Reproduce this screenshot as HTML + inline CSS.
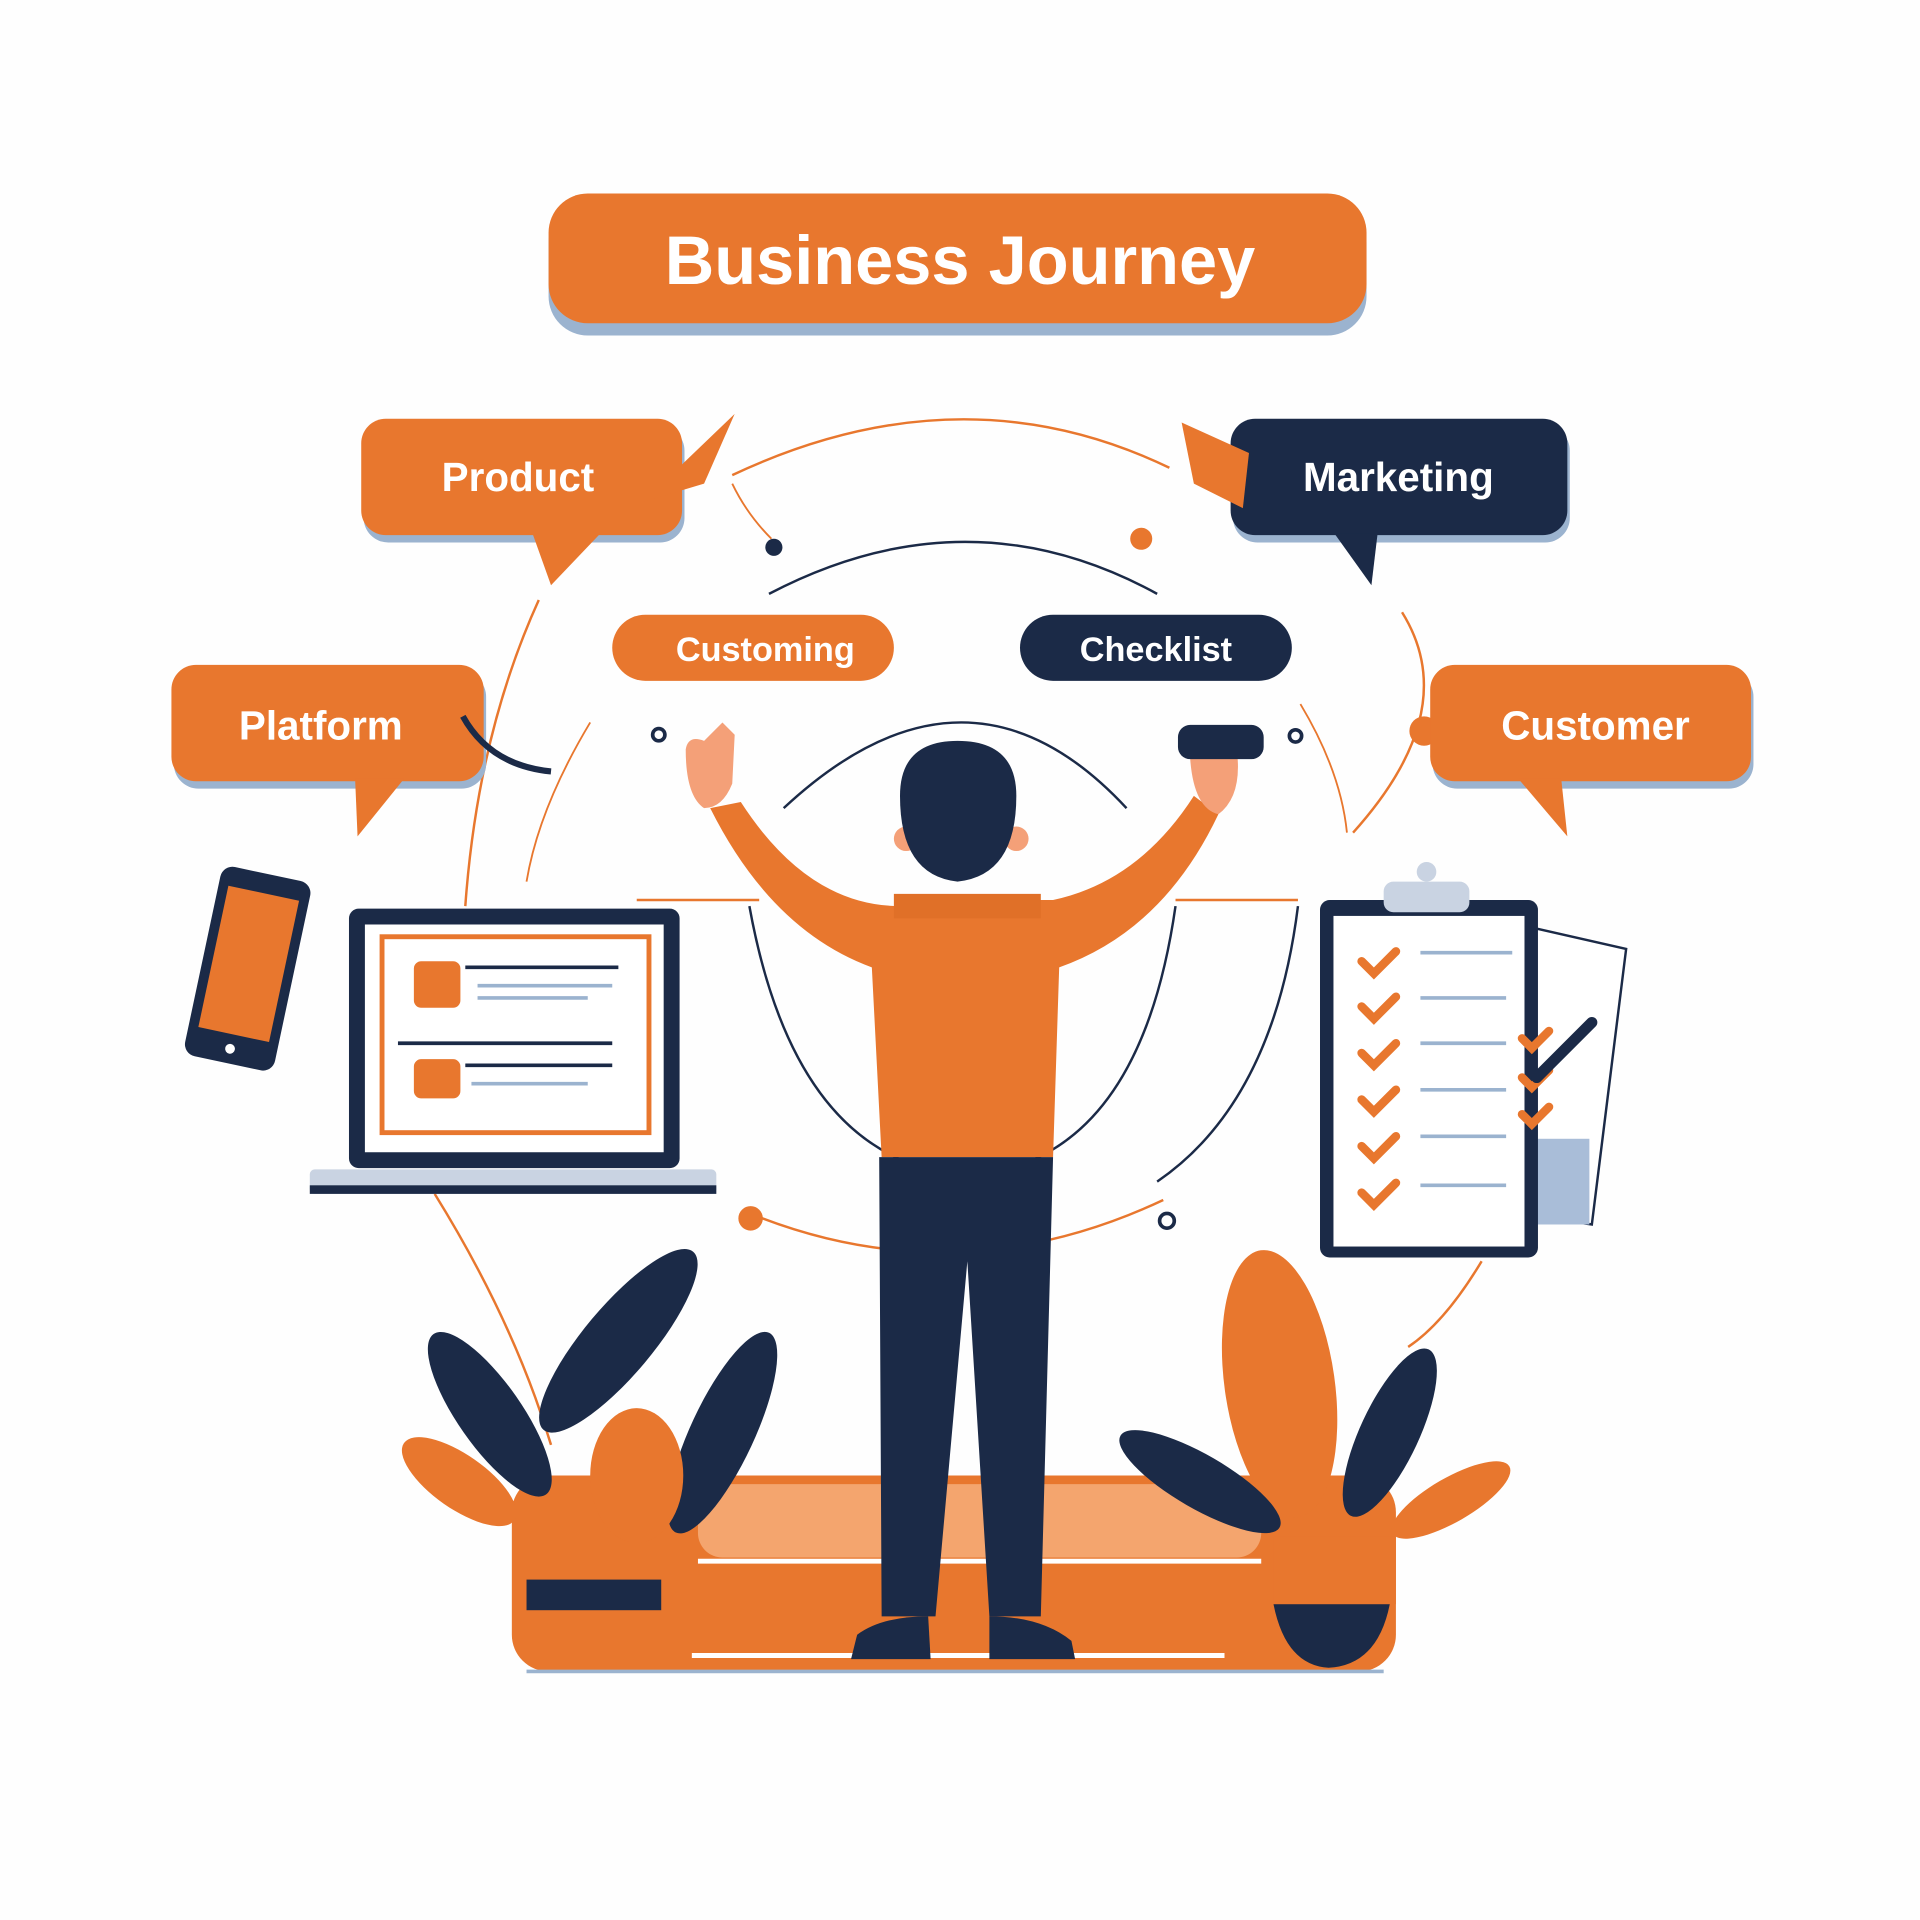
<!DOCTYPE html>
<html><head><meta charset="utf-8"><style>html,body{margin:0;padding:0;background:#fefefe}svg{display:block}</style></head>
<body>
<svg width="1920" height="1920" viewBox="0 0 1568 1568" xmlns="http://www.w3.org/2000/svg" font-family="Liberation Sans, sans-serif" font-weight="bold">
<rect width="1568" height="1568" fill="#fefefe"/>
<!-- arcs -->
<g fill="none" stroke-width="2">
<path d="M598 388 Q785 300 955 382" stroke="#E8772E"/>
<path d="M440 490 Q390 600 380 740" stroke="#E8772E"/>
<path d="M1145 500 Q1195 580 1105 680" stroke="#E8772E"/>
<path d="M482 590 Q440 660 430 720" stroke="#E8772E" stroke-width="1.5"/>
<path d="M1062 575 Q1095 630 1100 680" stroke="#E8772E" stroke-width="1.5"/>
<path d="M628 485 Q790 400 945 485" stroke="#1B2A47"/>
<path d="M640 660 Q790 520 920 660" stroke="#1B2A47"/>
<path d="M612 740 Q650 950 790 960 Q930 950 960 740" stroke="#1B2A47"/>
<path d="M945 965 Q1040 900 1060 740" stroke="#1B2A47"/>
<path d="M610 990 Q780 1060 950 980" stroke="#E8772E"/>
<path d="M355 975 Q420 1080 450 1180" stroke="#E8772E"/>
<path d="M1210 1030 Q1180 1080 1150 1100" stroke="#E8772E"/>
<path d="M520 735 H620 M960 735 H1060" stroke="#E8772E"/>
<path d="M598 395 Q610 420 630 440" stroke="#E8772E" stroke-width="1.5"/>
</g>
<circle cx="632" cy="447" r="7" fill="#1B2A47"/><circle cx="932" cy="440" r="9" fill="#E8772E"/>
<circle cx="538" cy="600" r="5" fill="none" stroke="#1B2A47" stroke-width="3"/>
<circle cx="1058" cy="601" r="5" fill="none" stroke="#1B2A47" stroke-width="3"/>
<circle cx="953" cy="997" r="6" fill="none" stroke="#1B2A47" stroke-width="3"/>
<circle cx="613" cy="995" r="10" fill="#E8772E"/>
<circle cx="1163" cy="597" r="12" fill="#E8772E"/>
<!-- title -->
<rect x="448" y="166" width="668" height="108" rx="32" fill="#9BB3CF"/>
<rect x="448" y="158" width="668" height="106" rx="32" fill="#E8772E"/>
<text x="784" y="232" font-size="56" fill="#fff" text-anchor="middle">Business Journey</text>
<!-- Product -->
<rect x="297" y="348" width="262" height="95" rx="20" fill="#9BB3CF"/>
<rect x="295" y="342" width="262" height="95" rx="20" fill="#E8772E"/>
<path d="M435 436 L450 478 L490 436Z" fill="#E8772E"/>
<path d="M525 410 L600 338 L575 395Z" fill="#E8772E"/>
<text x="423" y="401" font-size="33" fill="#fff" text-anchor="middle">Product</text>
<!-- Marketing -->
<rect x="1007" y="348" width="275" height="95" rx="20" fill="#9BB3CF"/>
<rect x="1005" y="342" width="275" height="95" rx="20" fill="#1B2A47"/>
<path d="M1090 436 L1120 478 L1125 436Z" fill="#1B2A47"/>
<path d="M965 345 L1020 370 L1015 415 L975 395Z" fill="#E8772E"/>
<text x="1142" y="401" font-size="33" fill="#fff" text-anchor="middle">Marketing</text>
<!-- pills -->
<rect x="500" y="502" width="230" height="54" rx="27" fill="#E8772E"/>
<text x="625" y="540" font-size="28" fill="#fff" text-anchor="middle">Customing</text>
<rect x="833" y="502" width="222" height="54" rx="27" fill="#1B2A47"/>
<text x="944" y="540" font-size="28" fill="#fff" text-anchor="middle">Checklist</text>
<!-- Platform -->
<rect x="142" y="549" width="255" height="95" rx="20" fill="#9BB3CF"/>
<rect x="140" y="543" width="255" height="95" rx="20" fill="#E8772E"/>
<path d="M290 636 L292 683 L330 636Z" fill="#E8772E"/>
<text x="262" y="604" font-size="33" fill="#fff" text-anchor="middle">Platform</text>
<path d="M378 585 Q400 625 450 630" fill="none" stroke="#1B2A47" stroke-width="5"/>
<!-- Customer -->
<rect x="1170" y="549" width="262" height="95" rx="20" fill="#9BB3CF"/>
<rect x="1168" y="543" width="262" height="95" rx="20" fill="#E8772E"/>
<path d="M1240 636 L1280 683 L1275 636Z" fill="#E8772E"/>
<text x="1303" y="604" font-size="33" fill="#fff" text-anchor="middle">Customer</text>
<!-- phone -->
<g transform="rotate(12 202 790)">
<rect x="165" y="712" width="75" height="158" rx="10" fill="#1B2A47"/>
<rect x="173" y="728" width="59" height="118" fill="#E8772E"/>
<circle cx="202" cy="858" r="4" fill="#fff"/>
</g>
<!-- laptop -->
<rect x="285" y="742" width="270" height="212" rx="8" fill="#1B2A47"/>
<rect x="298" y="755" width="244" height="186" fill="#fff"/>
<rect x="312" y="765" width="218" height="160" fill="none" stroke="#E8772E" stroke-width="4"/>
<rect x="338" y="785" width="38" height="38" rx="6" fill="#E8772E"/>
<rect x="338" y="865" width="38" height="32" rx="6" fill="#E8772E"/>
<g stroke="#1B2A47" stroke-width="3"><line x1="380" y1="790" x2="505" y2="790"/><line x1="325" y1="852" x2="500" y2="852"/><line x1="380" y1="870" x2="500" y2="870"/></g>
<g stroke="#9BB3CF" stroke-width="3"><line x1="390" y1="805" x2="500" y2="805"/><line x1="390" y1="815" x2="480" y2="815"/><line x1="385" y1="885" x2="480" y2="885"/></g>
<rect x="253" y="955" width="332" height="20" rx="4" fill="#c9d3e2"/>
<rect x="253" y="968" width="332" height="7" fill="#1B2A47"/>
<!-- clipboard -->
<path d="M1240 755 L1328 775 L1300 1000 L1230 990Z" fill="#fff" stroke="#1B2A47" stroke-width="2"/>
<rect x="1228" y="930" width="70" height="70" fill="#a9bdd8"/>
<rect x="1078" y="735" width="178" height="292" rx="8" fill="#1B2A47"/>
<rect x="1089" y="748" width="156" height="270" fill="#fff"/>
<rect x="1130" y="720" width="70" height="25" rx="8" fill="#c9d3e2"/>
<circle cx="1165" cy="712" r="8" fill="#c9d3e2"/>
<g fill="none" stroke="#E8772E" stroke-width="7" stroke-linecap="round">
<path d="M1112 785 l10 10 l18 -18"/><path d="M1112 822 l10 10 l18 -18"/><path d="M1112 860 l10 10 l18 -18"/><path d="M1112 898 l10 10 l18 -18"/><path d="M1112 936 l10 10 l18 -18"/><path d="M1112 974 l10 10 l18 -18"/>
<path d="M1243 848 l8 8 l14 -14"/><path d="M1243 880 l8 8 l14 -14"/><path d="M1243 910 l8 8 l14 -14"/>
</g>
<g stroke="#9BB3CF" stroke-width="3"><line x1="1160" y1="778" x2="1235" y2="778"/><line x1="1160" y1="815" x2="1230" y2="815"/><line x1="1160" y1="852" x2="1230" y2="852"/><line x1="1160" y1="890" x2="1230" y2="890"/><line x1="1160" y1="928" x2="1230" y2="928"/><line x1="1160" y1="968" x2="1230" y2="968"/></g>
<line x1="1255" y1="880" x2="1300" y2="835" stroke="#1B2A47" stroke-width="9" stroke-linecap="round"/>
<!-- platform base -->
<rect x="418" y="1205" width="722" height="160" rx="30" fill="#E8772E"/>
<rect x="570" y="1212" width="460" height="60" rx="20" fill="#F4A56E"/>
<line x1="570" y1="1275" x2="1030" y2="1275" stroke="#fff" stroke-width="4"/>
<line x1="565" y1="1352" x2="1000" y2="1352" stroke="#fff" stroke-width="4"/>
<line x1="430" y1="1365" x2="1130" y2="1365" stroke="#9BB3CF" stroke-width="3"/>
<!-- left plant -->
<g>
<ellipse cx="505" cy="1095" rx="28" ry="95" transform="rotate(40 505 1095)" fill="#1B2A47"/>
<ellipse cx="400" cy="1155" rx="26" ry="80" transform="rotate(-35 400 1155)" fill="#1B2A47"/>
<ellipse cx="590" cy="1170" rx="26" ry="90" transform="rotate(25 590 1170)" fill="#1B2A47"/>
<ellipse cx="520" cy="1205" rx="38" ry="55" fill="#E8772E"/>
<ellipse cx="375" cy="1210" rx="22" ry="55" transform="rotate(-55 375 1210)" fill="#E8772E"/>
<rect x="430" y="1290" width="110" height="25" fill="#1B2A47"/>
</g>
<!-- right plant -->
<g>
<ellipse cx="1045" cy="1130" rx="45" ry="110" transform="rotate(-8 1045 1130)" fill="#E8772E"/>
<ellipse cx="1135" cy="1170" rx="24" ry="75" transform="rotate(25 1135 1170)" fill="#1B2A47"/>
<ellipse cx="980" cy="1210" rx="22" ry="75" transform="rotate(-60 980 1210)" fill="#1B2A47"/>
<ellipse cx="1185" cy="1225" rx="18" ry="55" transform="rotate(60 1185 1225)" fill="#E8772E"/>
<path d="M1040 1310 H1135 Q1125 1360 1085 1362 Q1050 1360 1040 1310Z" fill="#1B2A47"/>
<path d="M1040 1255 H1140 V1310 H1040Z" fill="#E8772E"/>
</g>
<!-- person -->
<path d="M580 660 L605 655 Q660 740 735 740 L740 735 L860 735 Q930 720 975 650 L995 665 Q950 760 865 790 L860 945 L720 945 L712 790 Q630 760 580 660Z" fill="#E8772E"/>
<rect x="730" y="730" width="120" height="20" fill="#E07028"/>
<path d="M718 945 H860 L850 1320 H808 L790 1030 L764 1320 H720Z" fill="#1B2A47"/>
<path d="M695 1355 L700 1335 Q720 1320 758 1320 L760 1355Z" fill="#1B2A47"/>
<path d="M808 1355 V1320 Q850 1320 875 1340 L878 1355Z" fill="#1B2A47"/>
<circle cx="740" cy="685" r="10" fill="#F4A078"/><circle cx="830" cy="685" r="10" fill="#F4A078"/>
<path d="M735 650 Q735 605 782 605 Q830 605 830 650 Q830 715 782 720 Q735 715 735 650Z" fill="#1B2A47"/>
<path d="M560 612 Q562 600 575 605 L590 590 L600 600 L598 640 Q590 660 575 660 Q560 650 560 612Z" fill="#F4A078"/>
<path d="M972 620 Q985 605 1010 612 Q1015 650 995 665 Q975 660 972 620Z" fill="#F4A078"/>
<rect x="962" y="592" width="70" height="28" rx="10" fill="#1B2A47"/>
</svg>
</body></html>
